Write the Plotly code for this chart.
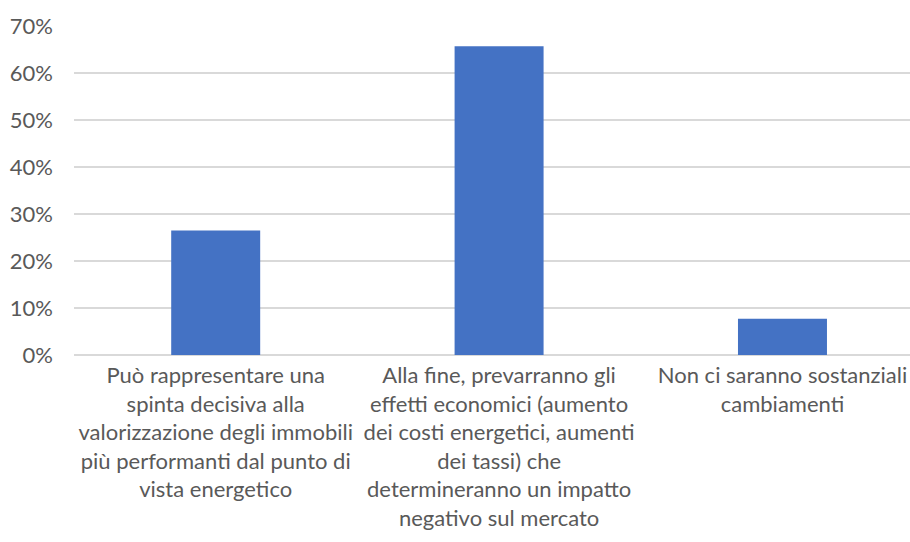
import plotly.graph_objects as go

categories = [
    "Può rappresentare una<br>spinta decisiva alla<br>valorizzazione degli immobili<br>più performanti dal punto di<br>vista energetico",
    "Alla fine, prevarranno gli<br>effetti economici (aumento<br>dei costi energetici, aumenti<br>dei tassi) che<br>determineranno un impatto<br>negativo sul mercato",
    "Non ci saranno sostanziali<br>cambiamenti",
]
values = [0.265, 0.657, 0.077]
y_ticks = [0, 0.1, 0.2, 0.3, 0.4, 0.5, 0.6, 0.7]
y_tick_labels = ["0%", "10%", "20%", "30%", "40%", "50%", "60%", "70%"]

FONT = "Lato"
TEXT = "#595959"
GRID = "#d9d9d9"

fig = go.Figure(
    go.Bar(
        x=categories,
        y=values,
        marker=dict(color="#4472C4", line=dict(width=0)),
        hoverinfo="skip",
    )
)

fig.update_layout(
    width=910,
    height=542,
    margin=dict(l=74, r=0, t=26, b=187),
    paper_bgcolor="white",
    plot_bgcolor="white",
    bargap=0.686,
    showlegend=False,
    font=dict(family=FONT, size=22, color=TEXT),
)

fig.update_xaxes(
    type="category",
    range=[-0.5, 2.45],
    showgrid=False,
    showline=False,
    ticks="",
    automargin=False,
    ticklabelstandoff=5,
    tickfont=dict(family=FONT, size=22, color=TEXT),
    tickangle=0,
)

fig.update_yaxes(
    range=[0, 0.7],
    tickvals=y_ticks,
    ticktext=y_tick_labels,
    showgrid=True,
    gridcolor=GRID,
    gridwidth=1.5,
    zeroline=True,
    zerolinecolor=GRID,
    zerolinewidth=1.5,
    showline=False,
    ticks="",
    automargin=False,
    ticklabelstandoff=20,
    tickfont=dict(family=FONT, size=22, color=TEXT),
)

fig.write_html(
    "out.html",
    config={"displayModeBar": False, "staticPlot": True},
    post_script="document.body.style.margin='0';document.body.style.overflow='hidden';",
)
